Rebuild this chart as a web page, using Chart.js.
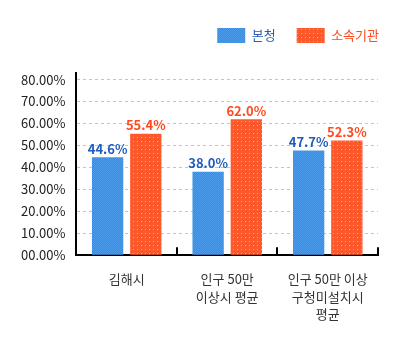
<!DOCTYPE html>
<html>
<head>
<meta charset="utf-8">
<script src="https://cdn.jsdelivr.net/npm/chart.js@4.4.1/dist/chart.umd.min.js"></script>
<style>
  html, body { margin: 0; padding: 0; background: #fff; }
  #wrap { width: 403px; height: 345px; }
</style>
</head>
<body>
<div id="wrap"><canvas id="orgChart" width="403" height="345"></canvas></div>
<script>
// 본청 / 소속기관 비율 비교
const categories = [['김해시'], ['인구 50만', '이상시 평균'], ['인구 50만 이상', '구청미설치시', '평균']];
const seriesNames = ['본청', '소속기관'];
const mainOffice = [44.6, 38.0, 47.7];
const affiliated = [55.4, 62.0, 52.3];
const yTicks = [0, 10, 20, 30, 40, 50, 60, 70, 80];

const FONT = '"Noto Sans CJK KR", "Noto Sans", sans-serif';

// small textured fills for the bars
function checkerPattern() {
    const c = document.createElement('canvas');
    c.width = 2; c.height = 2;
    const g = c.getContext('2d');
    g.fillStyle = '#3a8ce0';
    g.fillRect(0, 0, 2, 2);
    g.fillStyle = '#4d9cec';
    g.fillRect(0, 0, 1, 1);
    g.fillRect(1, 1, 1, 1);
    return g.createPattern(c, 'repeat');
}
function dotPattern() {
    const c = document.createElement('canvas');
    c.width = 4; c.height = 4;
    const g = c.getContext('2d');
    g.fillStyle = '#ff582a';
    g.fillRect(0, 0, 4, 4);
    g.fillStyle = '#ffa27f';
    g.fillRect(1, 1, 1, 1);
    return g.createPattern(c, 'repeat');
}

const barFills = [checkerPattern(), dotPattern()];
const labelColors = ['#1f5cbf', '#ff4a1f'];
const legendColors = ['#2a5cae', '#ff4a1f'];

// extra room under the legend
const legendGap = {
    id: 'legendGap',
    beforeInit(chart) {
        const fit = chart.legend.fit;
        chart.legend.fit = function () {
            fit.bind(chart.legend)();
            this.height += 20;
        };
    }
};

// value text above each bar
const valueLabels = {
    id: 'valueLabels',
    afterDatasetsDraw(chart) {
        const ctx = chart.ctx;
        ctx.save();
        ctx.font = 'bold 13px ' + FONT;
        ctx.textAlign = 'center';
        ctx.textBaseline = 'bottom';
        chart.data.datasets.forEach((ds, i) => {
            ctx.fillStyle = labelColors[i];
            chart.getDatasetMeta(i).data.forEach((bar, j) => {
                ctx.fillText(ds.data[j].toFixed(1) + '%', bar.x, bar.y - 2);
            });
        });
        ctx.restore();
    }
};

// short upward ticks between the categories on the base line
const categoryTicks = {
    id: 'categoryTicks',
    afterDraw(chart) {
        const x = chart.scales.x;
        const ctx = chart.ctx;
        const bottom = chart.chartArea.bottom;
        const step = x.getPixelForValue(1) - x.getPixelForValue(0);
        ctx.save();
        ctx.strokeStyle = '#000';
        ctx.lineWidth = 2;
        for (let i = 0; i < categories.length; i++) {
            const px = Math.round(x.getPixelForValue(i) + step / 2);
            ctx.beginPath();
            ctx.moveTo(px, bottom);
            ctx.lineTo(px, bottom - 8);
            ctx.stroke();
        }
        ctx.restore();
    }
};

new Chart(document.getElementById('orgChart').getContext('2d'), {
    type: 'bar',
    data: {
        labels: categories,
        datasets: [
            { label: seriesNames[0], data: mainOffice, backgroundColor: barFills[0] },
            { label: seriesNames[1], data: affiliated, backgroundColor: barFills[1] }
        ]
    },
    options: {
        responsive: false,
        animation: false,
        layout: { padding: { left: 10, right: 3, top: 7, bottom: 15 } },
        datasets: { bar: { categoryPercentage: 0.76, barPercentage: 0.82 } },
        plugins: {
            tooltip: { enabled: false },
            legend: {
                position: 'top',
                align: 'end',
                labels: {
                    boxWidth: 28,
                    boxHeight: 15,
                    padding: 21,
                    font: { family: FONT, size: 13 },
                    generateLabels(chart) {
                        return chart.data.datasets.map((ds, i) => ({
                            text: ds.label,
                            fillStyle: barFills[i],
                            strokeStyle: 'rgba(0,0,0,0)',
                            lineWidth: 0,
                            fontColor: legendColors[i],
                            datasetIndex: i
                        }));
                    }
                }
            }
        },
        scales: {
            x: {
                grid: { display: false },
                border: { color: '#000', width: 2 },
                ticks: {
                    color: '#333',
                    padding: 7,
                    maxRotation: 0,
                    font: { family: FONT, size: 13, lineHeight: 1.35 }
                }
            },
            y: {
                min: 0,
                max: 83,
                afterBuildTicks(scale) {
                    scale.ticks = yTicks.map(v => ({ value: v }));
                },
                grid: {
                    color: '#c4c4c4',
                    drawTicks: false
                },
                border: { color: '#000', width: 2, dash: [3, 3] },
                ticks: {
                    color: '#222',
                    padding: 11,
                    font: { family: FONT, size: 13 },
                    callback: v => String(v).padStart(2, '0') + '.00%'
                }
            },
            // empty axis keeping a margin on the right of the plot
            spacer: {
                position: 'right',
                display: true,
                grid: { display: false },
                border: { display: false },
                ticks: { display: false },
                afterFit(scale) { scale.width = 22; }
            }
        }
    },
    plugins: [legendGap, valueLabels, categoryTicks]
});
</script>
</body>
</html>
